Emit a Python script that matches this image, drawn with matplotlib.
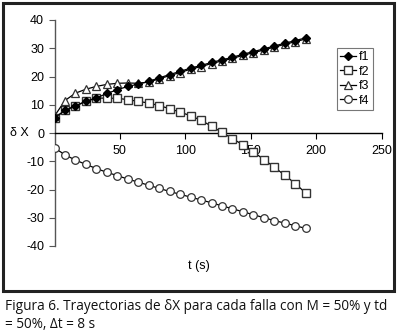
import matplotlib
matplotlib.use("Agg")
import matplotlib.pyplot as plt
from matplotlib.patches import Rectangle
import numpy as np

t = np.arange(0, 193, 8)

f1 = [5.3, 8.0, 9.6, 11.2, 12.4, 14.0, 15.3, 16.5, 17.3, 18.3, 19.5, 20.7, 21.8,
      23.0, 23.9, 25.0, 25.9, 26.8, 27.9, 28.8, 29.8, 30.8, 31.8, 32.7, 33.7]
f2 = [5.3, 8.0, 9.6, 11.2, 12.4, 12.3, 12.3, 11.8, 11.2, 10.6, 9.7, 8.6, 7.4,
      6.1, 4.5, 2.4, 0.2, -2.0, -4.2, -6.7, -9.4, -12.1, -15.0, -17.9, -21.3]
f3 = [6.0, 11.5, 14.1, 15.5, 16.5, 17.2, 17.6, 17.7, 17.6, 18.0, 19.2, 20.3, 21.4,
      22.6, 23.5, 24.6, 25.5, 26.4, 27.5, 28.4, 29.4, 30.4, 31.4, 32.3, 33.3]
f4 = [-5.3, -7.7, -9.6, -11.1, -12.6, -13.9, -15.1, -16.3, -17.4, -18.5, -19.6, -20.7, -21.7,
      -22.7, -23.7, -24.7, -25.8, -26.8, -27.9, -28.9, -30.0, -31.0, -31.9, -32.8, -33.8]

xticks = [50, 100, 150, 200, 250]
yticks = [-40, -30, -20, -10, 0, 10, 20, 30, 40]

plt.rcParams['font.family'] = ['Liberation Sans', 'DejaVu Sans']

W, H = 398, 334
fig = plt.figure(figsize=(W / 100, H / 100), dpi=100)
ax = fig.add_axes([54.5 / W, 1 - 246 / H, 327.2 / W, 226 / H])

ax.plot(t, f4, color='black', lw=0.9, marker='o', ms=5.5, mfc='white', mec='#333333', mew=0.9, label='f4', zorder=3)
ax.plot(t, f2, color='black', lw=0.9, marker='s', ms=5.5, mfc='white', mec='#333333', mew=1.0, label='f2', zorder=3)
ax.plot(t, f3, color='black', lw=0.9, marker='^', ms=6, mfc='white', mec='#333333', mew=0.9, label='f3', zorder=4)
ax.plot(t, f1, color='black', lw=0.9, marker='D', ms=4.5, mfc='black', mec='black', label='f1', zorder=5)

ax.set_xlim(0, 250)
ax.set_ylim(-40, 40)
ax.set_xticks(xticks)
ax.set_yticks(yticks)
ax.set_xticklabels([str(v) for v in xticks])
ax.set_yticklabels([str(v) for v in yticks])

for s in ['top', 'right']:
    ax.spines[s].set_visible(False)
ax.spines['bottom'].set_position(('data', 0))
ax.spines['bottom'].set_linewidth(1.0)
ax.spines['left'].set_linewidth(1.0)
ax.spines['left'].set_color('#555555')
ax.tick_params(axis='both', direction='out', length=4, width=0.8, labelsize=9, colors='black')
ax.tick_params(axis='y', colors='#555555', labelcolor='black')
ax.tick_params(axis='x', pad=5)

ax.text(-0.08, 0, 'δ X', transform=ax.get_yaxis_transform(), fontsize=9,
        ha='right', va='center')
ax.text(0.5, 1 - 266 / H, 't (s)', transform=fig.transFigure, fontsize=9,
        ha='center', va='center')

h, l = ax.get_legend_handles_labels()
order = [3, 1, 2, 0]
leg = ax.legend([h[i] for i in order], [l[i] for i in order],
                loc='upper left', bbox_to_anchor=((337 - 54.5) / 327.2, (246 - 48) / 226),
                fontsize=9, frameon=True, fancybox=False, edgecolor='#555555',
                borderpad=0.25, labelspacing=0.2, handlelength=1.3, handletextpad=0.2,
                borderaxespad=0)
leg.get_frame().set_linewidth(0.8)

fig.patches.append(Rectangle((3 / W, 1 - 291 / H), 391 / W, 288 / H, transform=fig.transFigure,
                             fill=False, edgecolor='#222222', linewidth=2.2))

cap_font = ['Open Sans', 'DejaVu Sans']
fig.text(5 / W, 1 - 306 / H, 'Figura 6. Trayectorias de δX para cada falla con M = 50% y td',
         fontsize=9.8, family=cap_font, ha='left', va='center', color='#111111')
fig.text(5 / W, 1 - 325 / H, '= 50%, Δt = 8 s',
         fontsize=9.8, family=cap_font, ha='left', va='center', color='#111111')

fig.savefig('out.png', dpi=100)
